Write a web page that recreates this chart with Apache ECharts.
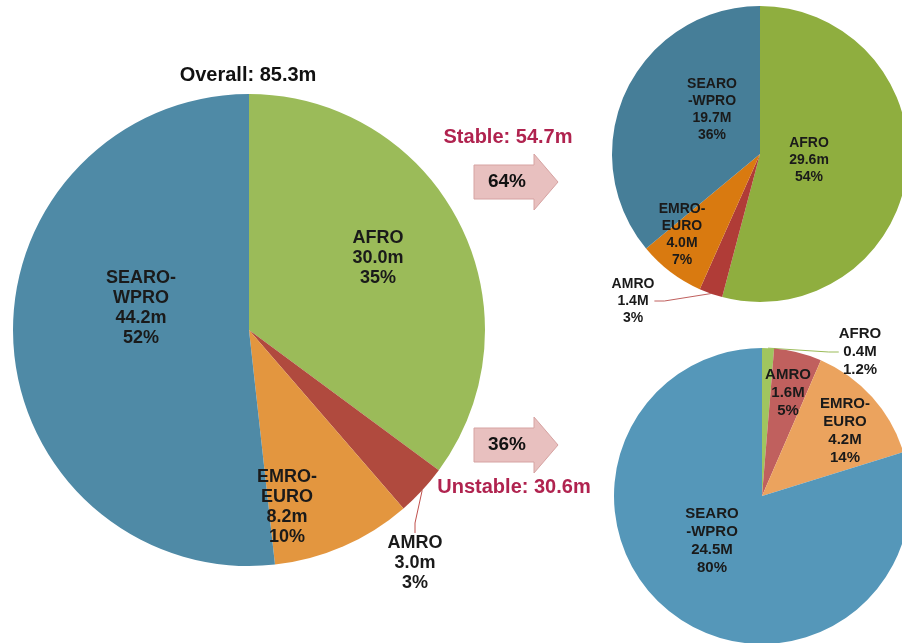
<!DOCTYPE html>
<html lang="en">
<head>
    <meta charset="UTF-8">
    <title>Overall / Stable / Unstable</title>
    <script src="https://cdn.jsdelivr.net/npm/echarts@6/dist/echarts.min.js"></script>
    <style>
        html, body { margin: 0; padding: 0; background: #fff; }
        #chart { width: 902px; height: 643px; }
    </style>
</head>
<body>
    <div id="chart"></div>
    <script>
        // data
        var regions = ['AFRO', 'AMRO', 'EMRO-EURO', 'SEARO-WPRO'];

        var overallNames = ['AFRO', 'AMRO', 'EMRO-\nEURO', 'SEARO-\nWPRO'];
        var overallValues = [30.0, 3.0, 8.2, 44.2];
        var overallUnits = ['m', 'm', 'm', 'm'];
        var overallPct = ['35%', '3%', '10%', '52%'];

        var stableNames = ['AFRO', 'AMRO', 'EMRO-\nEURO', 'SEARO\n-WPRO'];
        var stableValues = [29.6, 1.4, 4.0, 19.7];
        var stableUnits = ['m', 'M', 'M', 'M'];
        var stablePct = ['54%', '3%', '7%', '36%'];

        var unstableNames = ['AFRO', 'AMRO', 'EMRO-\nEURO', 'SEARO\n-WPRO'];
        var unstableValues = [0.4, 1.6, 4.2, 24.5];
        var unstableUnits = ['M', 'M', 'M', 'M'];
        var unstablePct = ['1.2%', '5%', '14%', '80%'];

        var titleText = 'Overall: 85.3m';
        var stableText = 'Stable: 54.7m';
        var unstableText = 'Unstable: 30.6m';
        var stableShare = '64%';
        var unstableShare = '36%';

        // label centres per slice (pixels)
        var overallLabelPos = [[378, 258], [415, 563], [287, 507], [141, 308]];
        var stableLabelPos = [[809, 160], [633, 301], [682, 235], [712, 110]];
        var unstableLabelPos = [[860, 352], [788, 393], [845, 431], [712, 541]];

        var overallColors = ['#9bbb59', '#b04a3e', '#e3963f', '#4f8aa6'];
        var stableColors = ['#8fae3f', '#b03c37', '#d97a10', '#467e98'];
        var unstableColors = ['#a0c55f', '#c0605e', '#eba35e', '#5597b9'];

        var chart = echarts.init(document.getElementById('chart'));

        function buildData(names, values, units, pct, colors, outside, lineColor) {
            return values.map(function (v, i) {
                var item = {
                    name: regions[i],
                    value: v,
                    itemStyle: { color: colors[i] },
                    label: {
                        formatter: names[i] + '\n' + v.toFixed(1) + units[i] + '\n' + pct[i]
                    }
                };
                if (outside[i]) {
                    item.label.position = 'outside';
                    item.labelLine = { show: true, length: 10, length2: 10, lineStyle: { color: lineColor, width: 1 } };
                }
                return item;
            });
        }

        function pieSeries(center, radius, data, fontSize, lineHeight, labelPos) {
            return {
                type: 'pie',
                center: center,
                radius: radius,
                startAngle: 90,
                clockwise: true,
                silent: true,
                animation: false,
                itemStyle: { borderWidth: 0 },
                label: {
                    show: true,
                    position: 'inside',
                    color: '#1a1a1a',
                    fontFamily: 'Liberation Sans, Arial, sans-serif',
                    fontWeight: 'bold',
                    fontSize: fontSize,
                    lineHeight: lineHeight,
                    align: 'center'
                },
                labelLine: { show: false },
                labelLayout: function (p) {
                    var pos = labelPos[p.dataIndex];
                    return { x: pos[0], y: pos[1], align: 'center', verticalAlign: 'middle' };
                },
                data: data
            };
        }

        function arrow(x, cy, text) {
            return {
                type: 'group',
                children: [{
                    type: 'polygon',
                    shape: {
                        points: [
                            [x, cy - 17], [x + 60, cy - 17], [x + 60, cy - 28],
                            [x + 84, cy], [x + 60, cy + 28], [x + 60, cy + 17], [x, cy + 17]
                        ]
                    },
                    style: { fill: '#e8c0bf', stroke: '#d6a3a2', lineWidth: 1 }
                }, {
                    type: 'text',
                    x: x + 33,
                    y: cy,
                    style: {
                        text: text, fill: '#111', fontSize: 19, fontWeight: 'bold',
                        fontFamily: 'Liberation Sans, Arial, sans-serif',
                        align: 'center', verticalAlign: 'middle'
                    }
                }]
            };
        }

        var option = {
            backgroundColor: '#fff',
            graphic: [
                {
                    type: 'text', x: 248, y: 75,
                    style: {
                        text: titleText, fill: '#111', fontSize: 20, fontWeight: 'bold',
                        fontFamily: 'Liberation Sans, Arial, sans-serif',
                        align: 'center', verticalAlign: 'middle'
                    }
                },
                {
                    type: 'text', x: 508, y: 137,
                    style: {
                        text: stableText, fill: '#b0234f', fontSize: 20, fontWeight: 'bold',
                        fontFamily: 'Liberation Sans, Arial, sans-serif',
                        align: 'center', verticalAlign: 'middle'
                    }
                },
                {
                    type: 'text', x: 514, y: 487,
                    style: {
                        text: unstableText, fill: '#b0234f', fontSize: 20, fontWeight: 'bold',
                        fontFamily: 'Liberation Sans, Arial, sans-serif',
                        align: 'center', verticalAlign: 'middle'
                    }
                },
                arrow(474, 182, stableShare),
                arrow(474, 445, unstableShare)
            ],
            series: [
                pieSeries([249, 330], 236,
                    buildData(overallNames, overallValues, overallUnits, overallPct, overallColors,
                        [false, true, false, false], '#c0504d'),
                    18, 20, overallLabelPos),
                pieSeries([760, 154], 148,
                    buildData(stableNames, stableValues, stableUnits, stablePct, stableColors,
                        [false, true, false, false], '#c0605e'),
                    14, 17, stableLabelPos),
                pieSeries([762, 496], 148,
                    buildData(unstableNames, unstableValues, unstableUnits, unstablePct, unstableColors,
                        [true, false, false, false], '#9bbb59'),
                    15, 18, unstableLabelPos)
            ]
        };

        chart.setOption(option);
    </script>
</body>
</html>
